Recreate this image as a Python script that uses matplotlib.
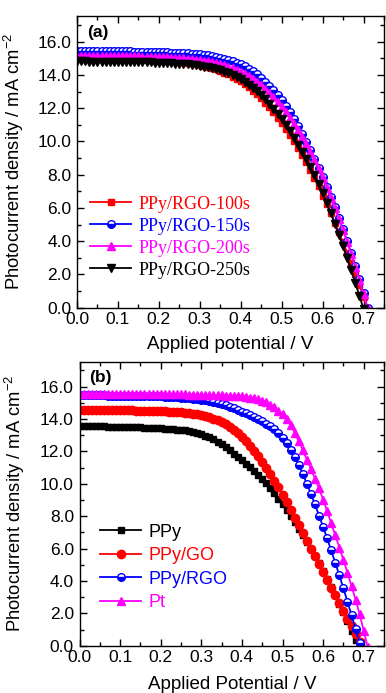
import matplotlib

matplotlib.use("Agg")  # headless
import matplotlib.pyplot as plt
from matplotlib.ticker import FormatStrFormatter, MultipleLocator

plt.rcParams["font.family"] = ["Liberation Sans", "DejaVu Sans"]
plt.rcParams["mathtext.default"] = "regular"

# Applied potential (V), 10 mV steps
volt = [0.00, 0.01, 0.02, 0.03, 0.04, 0.05, 0.06, 0.07, 0.08, 0.09,
        0.10, 0.11, 0.12, 0.13, 0.14, 0.15, 0.16, 0.17, 0.18, 0.19,
        0.20, 0.21, 0.22, 0.23, 0.24, 0.25, 0.26, 0.27, 0.28, 0.29,
        0.30, 0.31, 0.32, 0.33, 0.34, 0.35, 0.36, 0.37, 0.38, 0.39,
        0.40, 0.41, 0.42, 0.43, 0.44, 0.45, 0.46, 0.47, 0.48, 0.49,
        0.50, 0.51, 0.52, 0.53, 0.54, 0.55, 0.56, 0.57, 0.58, 0.59,
        0.60, 0.61, 0.62, 0.63, 0.64, 0.65, 0.66, 0.67, 0.68, 0.69,
        0.70, 0.71]

# --- panel (a): PPy/RGO deposition time (mA cm-2) ---
rgo_100s = [15.00, 15.00, 15.00, 14.99, 14.99, 14.99, 14.98, 14.98, 14.98, 14.97,
            14.97, 14.97, 14.96, 14.96, 14.95, 14.95, 14.94, 14.93, 14.92, 14.91,
            14.90, 14.88, 14.87, 14.85, 14.83, 14.80, 14.77, 14.74, 14.70, 14.66,
            14.61, 14.55, 14.49, 14.42, 14.34, 14.25, 14.15, 14.04, 13.91, 13.77,
            13.62, 13.45, 13.26, 13.06, 12.84, 12.60, 12.34, 12.06, 11.76, 11.44,
            11.10, 10.76, 10.40, 10.02, 9.62, 9.20, 8.76, 8.30, 7.82, 7.30,
            6.75, 6.22, 5.68, 5.12, 4.54, 3.94, 3.32, 2.68, 2.02, 1.34,
            0.64, -0.08]
rgo_150s = [15.46, 15.46, 15.45, 15.45, 15.45, 15.44, 15.44, 15.44, 15.43, 15.43,
            15.43, 15.42, 15.42, 15.42, 15.41, 15.41, 15.40, 15.40, 15.39, 15.38,
            15.38, 15.37, 15.36, 15.35, 15.34, 15.33, 15.31, 15.30, 15.28, 15.26,
            15.24, 15.21, 15.18, 15.14, 15.10, 15.05, 14.99, 14.92, 14.84, 14.75,
            14.64, 14.52, 14.38, 14.22, 14.04, 13.84, 13.60, 13.35, 13.08, 12.80,
            12.50, 12.14, 11.76, 11.35, 10.92, 10.46, 9.98, 9.48, 8.96, 8.42,
            7.86, 7.28, 6.68, 6.05, 5.40, 4.72, 4.01, 3.27, 2.50, 1.70,
            0.86, -0.02]
rgo_200s = [15.17, 15.17, 15.16, 15.16, 15.16, 15.15, 15.15, 15.15, 15.14, 15.14,
            15.14, 15.13, 15.13, 15.13, 15.12, 15.12, 15.11, 15.11, 15.10, 15.09,
            15.08, 15.07, 15.06, 15.05, 15.03, 15.02, 15.00, 14.98, 14.96, 14.93,
            14.90, 14.86, 14.82, 14.77, 14.72, 14.66, 14.59, 14.51, 14.42, 14.32,
            14.20, 14.07, 13.92, 13.76, 13.58, 13.38, 13.16, 12.92, 12.66, 12.38,
            12.08, 11.76, 11.42, 11.06, 10.68, 10.27, 9.83, 9.37, 8.88, 8.36,
            7.80, 7.22, 6.62, 6.00, 5.35, 4.67, 3.96, 3.22, 2.45, 1.65,
            0.82, -0.03]
rgo_250s = [14.82, 14.82, 14.82, 14.81, 14.81, 14.81, 14.81, 14.80, 14.80, 14.80,
            14.80, 14.79, 14.79, 14.79, 14.78, 14.78, 14.77, 14.77, 14.76, 14.75,
            14.74, 14.73, 14.72, 14.71, 14.69, 14.68, 14.66, 14.64, 14.61, 14.58,
            14.55, 14.51, 14.46, 14.41, 14.35, 14.28, 14.20, 14.10, 13.99, 13.87,
            13.73, 13.58, 13.41, 13.22, 13.01, 12.78, 12.53, 12.26, 11.97, 11.66,
            11.33, 10.98, 10.61, 10.22, 9.81, 9.38, 8.93, 8.46, 7.97, 7.46,
            6.90, 6.30, 5.70, 5.05, 4.40, 3.70, 3.00, 2.25, 1.50, 0.72,
            -0.08]

# --- panel (b): counter electrodes (mA cm-2) ---
ppy = [13.56, 13.56, 13.55, 13.55, 13.55, 13.54, 13.54, 13.53, 13.53, 13.52,
       13.52, 13.51, 13.50, 13.50, 13.49, 13.48, 13.47, 13.46, 13.45, 13.44,
       13.42, 13.41, 13.39, 13.37, 13.35, 13.32, 13.29, 13.25, 13.20, 13.13,
       13.05, 12.96, 12.86, 12.74, 12.60, 12.44, 12.26, 12.06, 11.84, 11.65,
       11.45, 11.25, 11.03, 10.80, 10.56, 10.30, 10.02, 9.72, 9.40, 9.06,
       8.72, 8.36, 7.99, 7.61, 7.22, 6.82, 6.40, 5.97, 5.53, 5.08,
       4.62, 4.14, 3.64, 3.13, 2.60, 2.06, 1.50, 0.92, 0.33, -0.27]
ppy_go = [14.56, 14.56, 14.56, 14.55, 14.55, 14.55, 14.55, 14.54, 14.54, 14.54,
          14.54, 14.53, 14.53, 14.53, 14.52, 14.52, 14.51, 14.51, 14.50, 14.49,
          14.48, 14.47, 14.46, 14.45, 14.43, 14.41, 14.39, 14.36, 14.33, 14.29,
          14.25, 14.19, 14.12, 14.03, 13.92, 13.80, 13.66, 13.50, 13.32, 13.12,
          12.90, 12.64, 12.36, 12.05, 11.72, 11.37, 11.00, 10.61, 10.20, 9.77,
          9.32, 8.86, 8.39, 7.91, 7.43, 6.95, 6.47, 5.99, 5.51, 5.03,
          4.55, 4.07, 3.59, 3.11, 2.63, 2.15, 1.67, 1.19, 0.71, 0.23,
          -0.25]
ppy_rgo = [15.47, 15.47, 15.47, 15.46, 15.46, 15.46, 15.46, 15.45, 15.45, 15.45,
           15.45, 15.44, 15.44, 15.44, 15.43, 15.43, 15.42, 15.42, 15.41, 15.40,
           15.39, 15.38, 15.37, 15.36, 15.34, 15.32, 15.30, 15.28, 15.25, 15.22,
           15.19, 15.15, 15.11, 15.06, 15.00, 14.93, 14.85, 14.76, 14.66, 14.55,
           14.46, 14.36, 14.25, 14.13, 14.00, 13.86, 13.71, 13.55, 13.38, 13.15,
           12.85, 12.50, 12.10, 11.65, 11.15, 10.60, 10.00, 9.38, 8.72, 8.04,
           7.34, 6.62, 5.88, 5.12, 4.34, 3.54, 2.72, 1.88, 1.02, 0.16,
           -0.70]
pt = [15.57, 15.57, 15.57, 15.57, 15.57, 15.56, 15.56, 15.56, 15.56, 15.56,
      15.56, 15.56, 15.56, 15.55, 15.55, 15.55, 15.55, 15.55, 15.54, 15.54,
      15.54, 15.54, 15.53, 15.53, 15.53, 15.52, 15.52, 15.51, 15.51, 15.50,
      15.50, 15.49, 15.48, 15.48, 15.47, 15.46, 15.45, 15.44, 15.42, 15.41,
      15.39, 15.36, 15.32, 15.27, 15.22, 15.13, 15.02, 14.88, 14.71, 14.51,
      14.28, 14.02, 13.62, 13.15, 12.62, 12.08, 11.48, 10.91, 10.32, 9.72,
      9.02, 8.30, 7.56, 6.82, 6.06, 5.30, 4.50, 3.68, 2.84, 1.95,
      0.92, -0.10]

RED, BLUE, MAG, BLK = "#ff0000", "#0000ff", "#ff00ff", "#000000"
ylab = "Photocurrent density / mA cm$^{-2}$"

fig = plt.figure(figsize=(3.86, 6.93), dpi=100)
ax_a = fig.add_axes([77 / 386, 1 - 307.7 / 693, 307 / 386, 291.7 / 693])
ax_b = fig.add_axes([79.5 / 386, 1 - 645.7 / 693, 304.5 / 386, 284.2 / 693])


def curve(ax, j, color, marker, label, ms=5.5, **kw):
    ax.plot(volt[:len(j)], j, color=color, marker=marker, ms=ms, mec=color,
            lw=1.3, label=label, **kw)


# --- panel (a) ---
curve(ax_a, rgo_100s, RED, "s", "PPy/RGO-100s", ms=5)
curve(ax_a, rgo_150s, BLUE, "o", "PPy/RGO-150s",
      fillstyle="bottom", markerfacecoloralt="white")
curve(ax_a, rgo_200s, MAG, "^", "PPy/RGO-200s", ms=6)
curve(ax_a, rgo_250s, BLK, "v", "PPy/RGO-250s", ms=6)

# --- panel (b) ---
curve(ax_b, ppy, BLK, "s", "PPy", ms=5)
curve(ax_b, ppy_go, RED, "o", "PPy/GO", ms=6)
curve(ax_b, ppy_rgo, BLUE, "o", "PPy/RGO",
      fillstyle="bottom", markerfacecoloralt="white")
curve(ax_b, pt, MAG, "^", "Pt", ms=6)


def style(ax, xlabel, tag, ylab_x, xlab_y):
    ax.set_xlim(0, 0.75)
    ax.set_ylim(0, 17.55)
    ax.xaxis.set_major_locator(MultipleLocator(0.1))
    ax.xaxis.set_minor_locator(MultipleLocator(0.05))
    ax.yaxis.set_major_locator(MultipleLocator(2))
    ax.yaxis.set_minor_locator(MultipleLocator(1))
    ax.xaxis.set_major_formatter(FormatStrFormatter("%.1f"))
    ax.yaxis.set_major_formatter(FormatStrFormatter("%.1f"))
    ax.tick_params(which="both", direction="in", top=True, right=True, width=1)
    ax.tick_params(which="major", length=5, labelsize=12.5)
    ax.tick_params(which="minor", length=3)
    ax.tick_params(axis="x", pad=3)
    ax.tick_params(axis="y", pad=4)
    for s in ax.spines.values():
        s.set_linewidth(1)
    ax.set_ylabel(ylab, fontsize=13.2)
    ax.yaxis.set_label_coords(ylab_x, 0.5)
    ax.set_xlabel(xlabel, fontsize=13.5)
    ax.xaxis.set_label_coords(0.5, xlab_y)
    ax.text(0.033, 0.943, tag, transform=ax.transAxes, fontsize=12.5,
            fontweight="bold", va="center", ha="left")


style(ax_a, "Applied potential / V", "(a)", -0.165, -0.097)
style(ax_b, "Applied Potential / V", "(b)", -0.172, -0.107)

leg_a = ax_a.legend(loc="center left", bbox_to_anchor=(0.042, 0.242),
                    frameon=False, prop={"family": "Liberation Serif", "size": 13},
                    handlelength=2.3, handletextpad=0.4, labelspacing=0.28,
                    borderpad=0, borderaxespad=0)
for t, c in zip(leg_a.get_texts(), [RED, BLUE, MAG, BLK]):
    t.set_color(c)

leg_b = ax_b.legend(loc="center left", bbox_to_anchor=(0.067, 0.275),
                    frameon=False, prop={"size": 13},
                    handlelength=2.3, handletextpad=0.4, labelspacing=0.36,
                    borderpad=0, borderaxespad=0)
for t, c in zip(leg_b.get_texts(), [BLK, RED, BLUE, MAG]):
    t.set_color(c)

fig.savefig("out.png", dpi=100)
